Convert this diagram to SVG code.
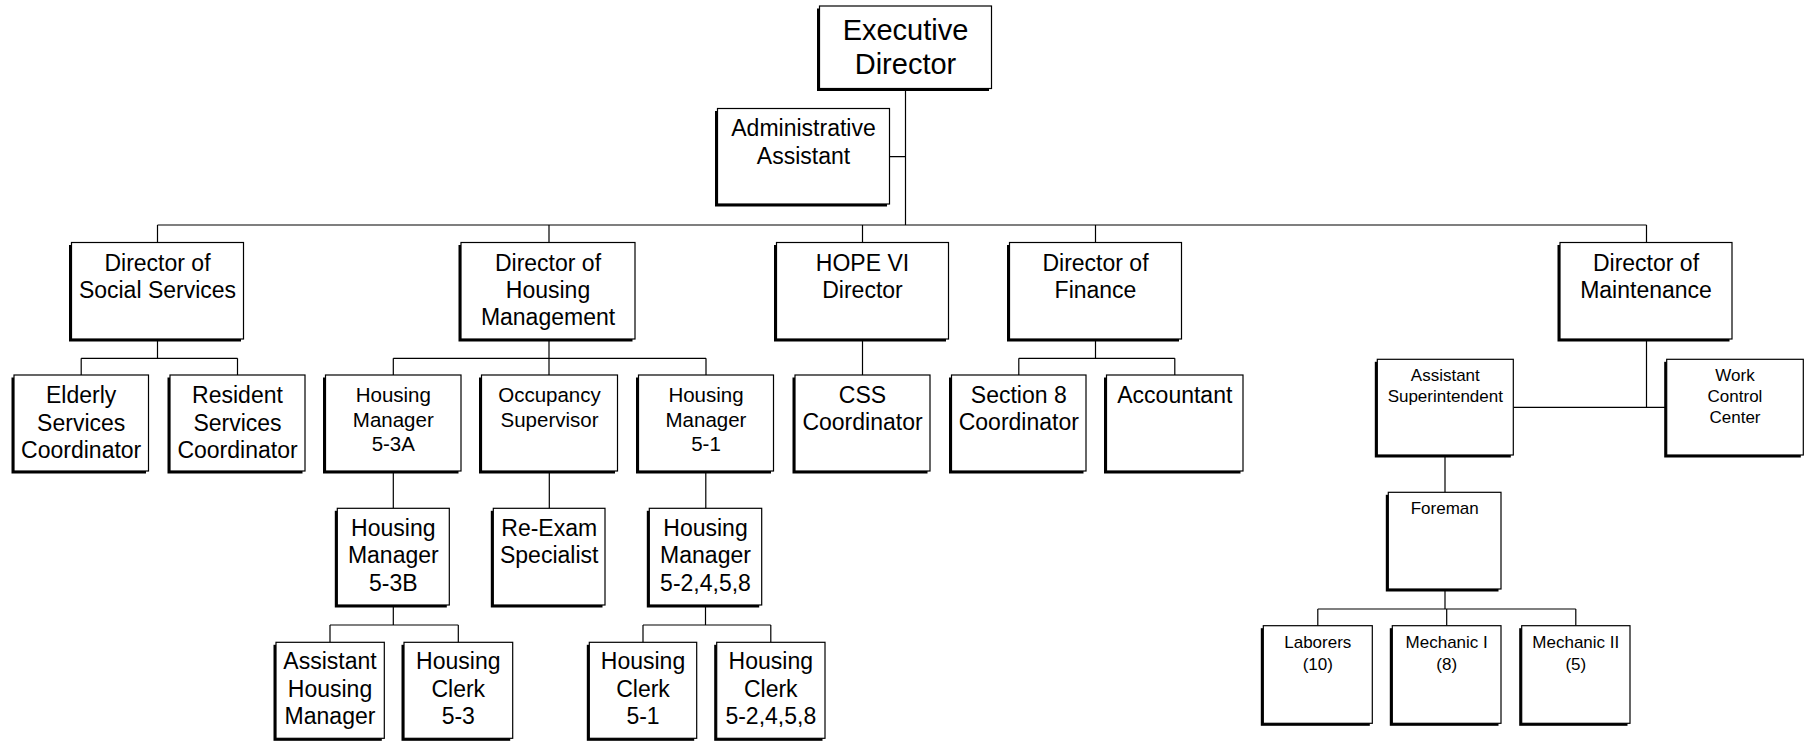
<svg xmlns="http://www.w3.org/2000/svg" width="1811" height="742" viewBox="0 0 1811 742">
<style>
.sh{fill:#000}
.box{fill:#fff;stroke:#000;stroke-width:1.2}
.t{font-family:"Liberation Sans",Arial,sans-serif;text-anchor:middle;fill:#000}
.f29{font-size:29px}
.f23{font-size:23px}
.f20{font-size:20.5px}
.f17{font-size:17px}
#connectors path{fill:none;stroke:#000;stroke-width:1.2}
</style>
<rect width="1811" height="742" fill="#fff"/>
<g id="connectors">
<path d="M905.5 88.5V225M889.5 156.7H905.5"/>
<path d="M157.5 225H1646.5M157.5 225V242.5M549 225V242.5M862.5 225V242.5M1095.5 225V242.5M1646.5 225V242.5"/>
<path d="M157.5 339V358.3M81.2 358.3H237.5M81.2 358.3V375M237.5 358.3V375"/>
<path d="M549 339V358.3M393.3 358.3H706M393.3 358.3V375M549 358.3V375M706 358.3V375"/>
<path d="M862.5 339V375"/>
<path d="M1095.5 339V358.3M1018.8 358.3H1174.8M1018.8 358.3V375M1174.8 358.3V375"/>
<path d="M1646.5 339V407.3M1513.3 407.3H1666.7"/>
<path d="M1445 455V492.3M1445 589V609M1317.8 609H1575.8M1317.8 609V625.7M1446.7 609V625.7M1575.8 609V625.7"/>
<path d="M393.3 471V508.3M549.3 471V508.3M705.8 471V508.3"/>
<path d="M393.3 605V625M330 625H458.3M330 625V642.3M458.3 625V642.3"/>
<path d="M705.5 605V625M643 625H770.8M643 625V642.3M770.8 625V642.3"/>
</g>
<g id="executive-director"><rect class="sh" x="817" y="8.5" width="172" height="82.5"/><rect class="box" x="819.5" y="6" width="172" height="82.5"/><text class="t f29"><tspan x="905.5" y="39.5">Executive</tspan><tspan x="905.5" y="74">Director</tspan></text></g>
<g id="administrative-assistant"><rect class="sh" x="715" y="111" width="172" height="95.5"/><rect class="box" x="717.5" y="108.5" width="172" height="95.5"/><text class="t f23"><tspan x="803.5" y="136">Administrative</tspan><tspan x="803.5" y="163.5">Assistant</tspan></text></g>
<g id="director-social-services"><rect class="sh" x="69" y="245" width="172" height="96.5"/><rect class="box" x="71.5" y="242.5" width="172" height="96.5"/><text class="t f23"><tspan x="157.5" y="270.5">Director of</tspan><tspan x="157.5" y="297.5">Social Services</tspan></text></g>
<g id="director-housing-management"><rect class="sh" x="458.5" y="245" width="174" height="96.5"/><rect class="box" x="461" y="242.5" width="174" height="96.5"/><text class="t f23"><tspan x="548" y="270.5">Director of</tspan><tspan x="548" y="297.5">Housing</tspan><tspan x="548" y="325">Management</tspan></text></g>
<g id="hope-vi-director"><rect class="sh" x="774" y="245" width="172" height="96.5"/><rect class="box" x="776.5" y="242.5" width="172" height="96.5"/><text class="t f23"><tspan x="862.5" y="270.5">HOPE VI</tspan><tspan x="862.5" y="297.5">Director</tspan></text></g>
<g id="director-finance"><rect class="sh" x="1007" y="245" width="172" height="96.5"/><rect class="box" x="1009.5" y="242.5" width="172" height="96.5"/><text class="t f23"><tspan x="1095.5" y="270.5">Director of</tspan><tspan x="1095.5" y="297.5">Finance</tspan></text></g>
<g id="director-maintenance"><rect class="sh" x="1557.5" y="245" width="172" height="96.5"/><rect class="box" x="1560" y="242.5" width="172" height="96.5"/><text class="t f23"><tspan x="1646" y="270.5">Director of</tspan><tspan x="1646" y="298">Maintenance</tspan></text></g>
<g id="elderly-services-coordinator"><rect class="sh" x="11.5" y="377.5" width="134.5" height="96"/><rect class="box" x="14" y="375" width="134.5" height="96"/><text class="t f23"><tspan x="81.2" y="403.3">Elderly</tspan><tspan x="81.2" y="430.7">Services</tspan><tspan x="81.2" y="458.3">Coordinator</tspan></text></g>
<g id="resident-services-coordinator"><rect class="sh" x="167.5" y="377.5" width="135" height="96"/><rect class="box" x="170" y="375" width="135" height="96"/><text class="t f23"><tspan x="237.5" y="403.3">Resident</tspan><tspan x="237.5" y="430.7">Services</tspan><tspan x="237.5" y="458.3">Coordinator</tspan></text></g>
<g id="housing-manager-5-3a"><rect class="sh" x="323" y="377.5" width="135.5" height="96"/><rect class="box" x="325.5" y="375" width="135.5" height="96"/><text class="t f20"><tspan x="393.3" y="402">Housing</tspan><tspan x="393.3" y="426.5">Manager</tspan><tspan x="393.3" y="450.5">5-3A</tspan></text></g>
<g id="occupancy-supervisor"><rect class="sh" x="479" y="377.5" width="136" height="96"/><rect class="box" x="481.5" y="375" width="136" height="96"/><text class="t f20"><tspan x="549.5" y="402">Occupancy</tspan><tspan x="549.5" y="426.5">Supervisor</tspan></text></g>
<g id="housing-manager-5-1"><rect class="sh" x="636" y="377.5" width="135" height="96"/><rect class="box" x="638.5" y="375" width="135" height="96"/><text class="t f20"><tspan x="706" y="402">Housing</tspan><tspan x="706" y="426.5">Manager</tspan><tspan x="706" y="450.5">5-1</tspan></text></g>
<g id="css-coordinator"><rect class="sh" x="792.5" y="377.5" width="135" height="96"/><rect class="box" x="795" y="375" width="135" height="96"/><text class="t f23"><tspan x="862.5" y="402.7">CSS</tspan><tspan x="862.5" y="430">Coordinator</tspan></text></g>
<g id="section-8-coordinator"><rect class="sh" x="949" y="377.5" width="134.5" height="96"/><rect class="box" x="951.5" y="375" width="134.5" height="96"/><text class="t f23"><tspan x="1018.8" y="402.7">Section 8</tspan><tspan x="1018.8" y="430">Coordinator</tspan></text></g>
<g id="accountant"><rect class="sh" x="1104" y="377.5" width="136.5" height="96"/><rect class="box" x="1106.5" y="375" width="136.5" height="96"/><text class="t f23"><tspan x="1174.8" y="402.7">Accountant</tspan></text></g>
<g id="housing-manager-5-3b"><rect class="sh" x="334.8" y="510.8" width="112" height="96.7"/><rect class="box" x="337.3" y="508.3" width="112" height="96.7"/><text class="t f23"><tspan x="393.3" y="536">Housing</tspan><tspan x="393.3" y="563.3">Manager</tspan><tspan x="393.3" y="590.7">5-3B</tspan></text></g>
<g id="re-exam-specialist"><rect class="sh" x="490.8" y="510.8" width="111.7" height="96.7"/><rect class="box" x="493.3" y="508.3" width="111.7" height="96.7"/><text class="t f23"><tspan x="549.2" y="536">Re-Exam</tspan><tspan x="549.2" y="563.3">Specialist</tspan></text></g>
<g id="housing-manager-5-2458"><rect class="sh" x="646.8" y="510.8" width="112.4" height="96.7"/><rect class="box" x="649.3" y="508.3" width="112.4" height="96.7"/><text class="t f23"><tspan x="705.5" y="536">Housing</tspan><tspan x="705.5" y="563.3">Manager</tspan><tspan x="705.5" y="590.7">5-2,4,5,8</tspan></text></g>
<g id="assistant-housing-manager"><rect class="sh" x="273.5" y="644.8" width="108.3" height="96"/><rect class="box" x="276" y="642.3" width="108.3" height="96"/><text class="t f23"><tspan x="330" y="669.3">Assistant</tspan><tspan x="330" y="696.7">Housing</tspan><tspan x="330" y="724">Manager</tspan></text></g>
<g id="housing-clerk-5-3"><rect class="sh" x="401.5" y="644.8" width="108.7" height="96"/><rect class="box" x="404" y="642.3" width="108.7" height="96"/><text class="t f23"><tspan x="458.3" y="669.3">Housing</tspan><tspan x="458.3" y="696.7">Clerk</tspan><tspan x="458.3" y="724">5-3</tspan></text></g>
<g id="housing-clerk-5-1"><rect class="sh" x="586.8" y="644.8" width="107.4" height="96"/><rect class="box" x="589.3" y="642.3" width="107.4" height="96"/><text class="t f23"><tspan x="643" y="669.3">Housing</tspan><tspan x="643" y="696.7">Clerk</tspan><tspan x="643" y="724">5-1</tspan></text></g>
<g id="housing-clerk-5-2458"><rect class="sh" x="714.2" y="644.8" width="108.3" height="96"/><rect class="box" x="716.7" y="642.3" width="108.3" height="96"/><text class="t f23"><tspan x="770.8" y="669.3">Housing</tspan><tspan x="770.8" y="696.7">Clerk</tspan><tspan x="770.8" y="724">5-2,4,5,8</tspan></text></g>
<g id="assistant-superintendent"><rect class="sh" x="1374.8" y="361.8" width="136" height="95.7"/><rect class="box" x="1377.3" y="359.3" width="136" height="95.7"/><text class="t f17"><tspan x="1445.3" y="380.7">Assistant</tspan><tspan x="1445.3" y="401.7">Superintendent</tspan></text></g>
<g id="work-control-center"><rect class="sh" x="1664.2" y="361.8" width="136.6" height="95.7"/><rect class="box" x="1666.7" y="359.3" width="136.6" height="95.7"/><text class="t f17"><tspan x="1735" y="380.7">Work</tspan><tspan x="1735" y="401.7">Control</tspan><tspan x="1735" y="423">Center</tspan></text></g>
<g id="foreman"><rect class="sh" x="1385.8" y="494.8" width="112.7" height="96.7"/><rect class="box" x="1388.3" y="492.3" width="112.7" height="96.7"/><text class="t f17"><tspan x="1444.7" y="514">Foreman</tspan></text></g>
<g id="laborers"><rect class="sh" x="1260.8" y="628.2" width="109" height="97.6"/><rect class="box" x="1263.3" y="625.7" width="109" height="97.6"/><text class="t f17"><tspan x="1317.8" y="648.3">Laborers</tspan><tspan x="1317.8" y="670">(10)</tspan></text></g>
<g id="mechanic-i"><rect class="sh" x="1389.8" y="628.2" width="108.7" height="97.6"/><rect class="box" x="1392.3" y="625.7" width="108.7" height="97.6"/><text class="t f17"><tspan x="1446.7" y="648.3">Mechanic I</tspan><tspan x="1446.7" y="670">(8)</tspan></text></g>
<g id="mechanic-ii"><rect class="sh" x="1519.2" y="628.2" width="108.3" height="97.6"/><rect class="box" x="1521.7" y="625.7" width="108.3" height="97.6"/><text class="t f17"><tspan x="1575.8" y="648.3">Mechanic II</tspan><tspan x="1575.8" y="670">(5)</tspan></text></g>
</svg>
